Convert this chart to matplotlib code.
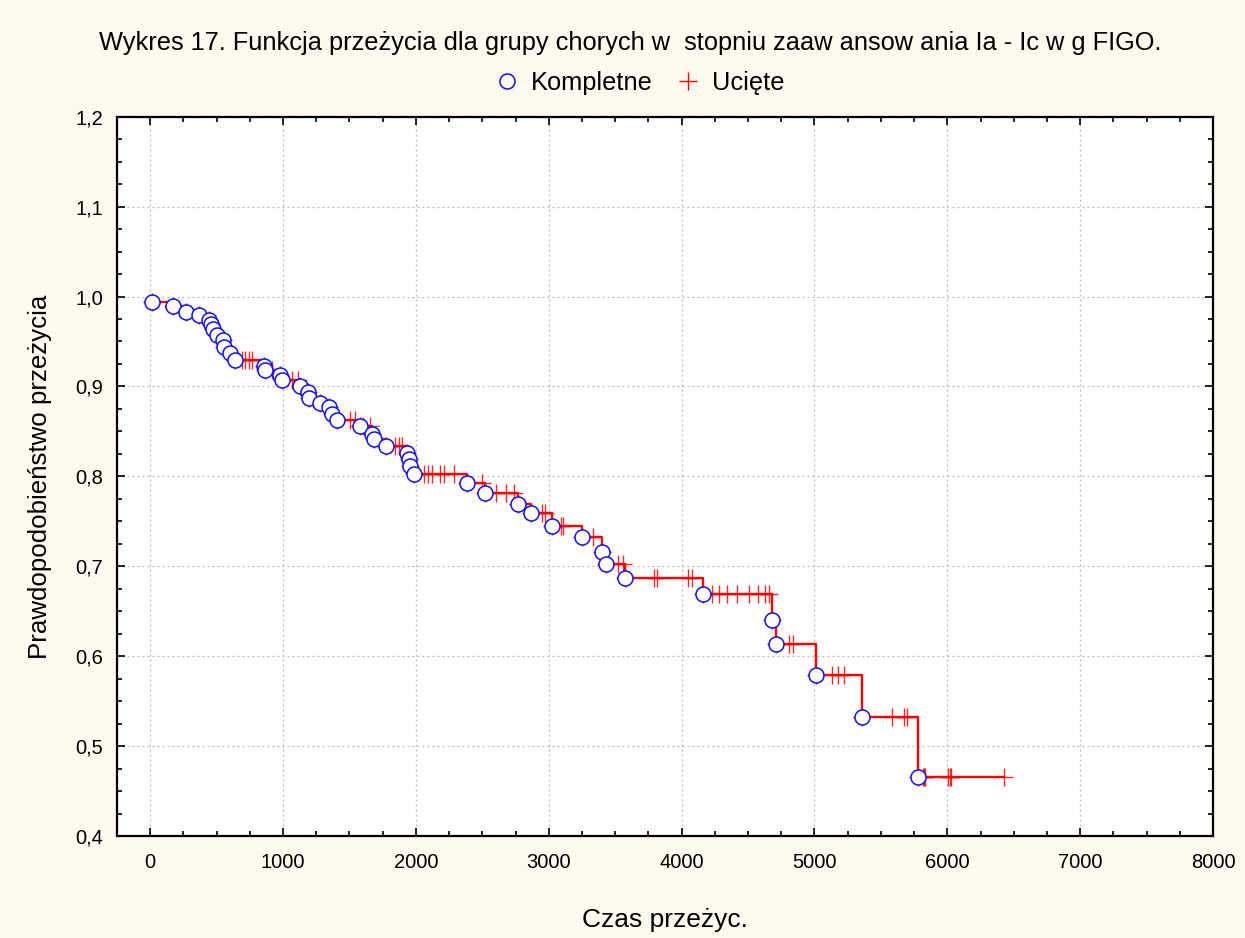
import matplotlib

matplotlib.use("Agg")
import matplotlib.pyplot as plt
from matplotlib.lines import Line2D
from matplotlib.ticker import FixedLocator, AutoMinorLocator, FuncFormatter
import numpy as np

# Kaplan-Meier estimate: complete (event) observations
event_times = [17, 175, 266, 371, 444, 459, 476, 506, 547, 559, 597, 640,
               855, 867, 978, 993, 1129, 1184, 1199, 1279, 1349, 1367, 1405,
               1580, 1668, 1688, 1776, 1931, 1949, 1956, 1989, 2383, 2523,
               2771, 2865, 3023, 3253, 3399, 3431, 3574, 4163, 4678, 4710,
               5014, 5355, 5781]
event_surv = [0.994, 0.989, 0.983, 0.979, 0.974, 0.969, 0.964, 0.957, 0.952,
              0.944, 0.937, 0.929, 0.923, 0.918, 0.913, 0.907, 0.900, 0.894,
              0.887, 0.882, 0.877, 0.869, 0.863, 0.856, 0.847, 0.842, 0.834,
              0.826, 0.819, 0.811, 0.803, 0.793, 0.782, 0.769, 0.759, 0.745,
              0.732, 0.716, 0.703, 0.687, 0.669, 0.640, 0.614, 0.579, 0.532,
              0.466]

# censored observations (time only, they sit on the current survival level)
censored_times = [690, 715, 740, 765, 920, 1070, 1110, 1229, 1505, 1540, 1600,
                  1655, 1845, 1870, 1894, 2060, 2090, 2120, 2180, 2210, 2290,
                  2500, 2600, 2680, 2740, 2950, 2975, 3090, 3110, 3335, 3520,
                  3560, 3790, 3815, 4050, 4076, 4230, 4280, 4340, 4415, 4510,
                  4575, 4630, 4660, 4805, 4835, 5130, 5180, 5220, 5580, 5675,
                  5700, 5815, 5825, 5835, 6005, 6020, 6030, 6425]

title = "Wykres 17. Funkcja przeżycia dla grupy chorych w  stopniu zaaw ansow ania Ia - Ic w g FIGO."
x_label = "Czas przeżyc."
y_label = "Prawdopodobieństwo przeżycia"
legend_labels = ["Kompletne", "Ucięte"]
x_ticks = [0, 1000, 2000, 3000, 4000, 5000, 6000, 7000, 8000]
y_ticks = [0.4, 0.5, 0.6, 0.7, 0.8, 0.9, 1.0, 1.1, 1.2]

bg = "#FDF9EE"
red = "#FF0000"
blue = "#1010FF"

plt.rcParams["font.family"] = ["Liberation Sans", "DejaVu Sans"]

ev_t = np.array(event_times, dtype=float)
ev_s = np.array(event_surv)
cen_t = np.array(censored_times, dtype=float)

# survival level in force at each censoring time
idx = np.searchsorted(ev_t, cen_t, side="right") - 1
cen_s = np.where(idx >= 0, ev_s[np.clip(idx, 0, None)], 1.0)

# step curve from t=0 up to the last observation
step_t = np.concatenate([[0.0], ev_t, [cen_t.max()]])
step_s = np.concatenate([[1.0], ev_s, [ev_s[-1]]])

fig = plt.figure(figsize=(12.45, 9.38), dpi=100, facecolor=bg)
ax = fig.add_axes([117 / 1245, 1 - 836 / 938, (1213 - 117) / 1245, (836 - 116.7) / 938])
ax.set_facecolor("white")

ax.step(step_t, step_s, where="post", color=red, lw=1.7, zorder=3)
ax.plot(cen_t, cen_s, ls="none", marker="+", ms=12.5, mew=1.0, color=red,
        alpha=0.85, zorder=4)
ax.plot(ev_t, ev_s, ls="none", marker="+", ms=12.5, mew=1.0, color=red, zorder=4)
ax.plot(ev_t, ev_s, ls="none", marker="o", ms=10.8, mew=1.1, mfc="white",
        mec=blue, zorder=5)

ax.set_xlim(-250, 8000)
ax.set_ylim(0.4, 1.2)
ax.xaxis.set_major_locator(FixedLocator(x_ticks))
ax.yaxis.set_major_locator(FixedLocator(y_ticks))
ax.xaxis.set_minor_locator(AutoMinorLocator(4))
ax.yaxis.set_minor_locator(AutoMinorLocator(4))
ax.yaxis.set_major_formatter(FuncFormatter(lambda v, p: f"{v:.1f}".replace(".", ",")))
ax.tick_params(which="both", direction="in", top=True, right=True, width=1.2, color="black")
ax.tick_params(which="major", length=6)
ax.tick_params(which="minor", length=3.5)
ax.tick_params(axis="x", which="major", labelsize=14.5, pad=12)
ax.tick_params(axis="y", which="major", labelsize=14.5, pad=10)
for sp in ax.spines.values():
    sp.set_linewidth(1.6)
ax.grid(True, which="major", color="#B8B8B8", ls=(0, (1.5, 2.5)), lw=0.9)
ax.set_axisbelow(True)

fig.text(0.506, 1 - 43 / 938, title, ha="center", va="center", fontsize=18.3)
ax.set_xlabel(x_label, fontsize=19, labelpad=26)
ax.set_ylabel(y_label, fontsize=18.6, labelpad=17)

handles = [
    Line2D([], [], ls="none", marker="o", ms=10.8, mew=1.1, mfc="white", mec=blue),
    Line2D([], [], ls="none", marker="+", ms=12.5, mew=1.0, color=red),
]
fig.legend(handles, legend_labels, loc="center", bbox_to_anchor=(0.5125, 1 - 83 / 938),
           ncol=2, frameon=False, fontsize=18.3, handletextpad=0.35, columnspacing=0.75,
           handlelength=1.2)

fig.savefig("out.png", dpi=100, facecolor=bg)
